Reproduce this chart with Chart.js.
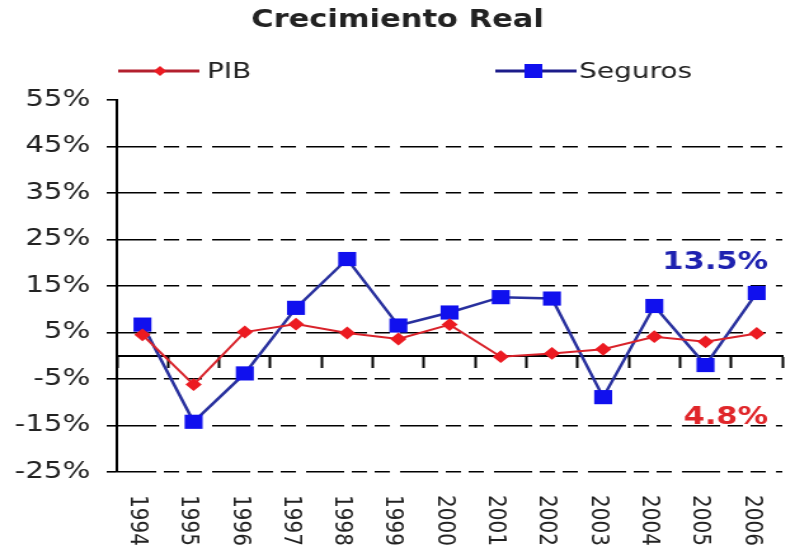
<!DOCTYPE html>
<html lang="es">
<head>
<meta charset="utf-8">
<title>Crecimiento Real</title>
<script src="https://cdn.jsdelivr.net/npm/chart.js@4.4.1/dist/chart.umd.min.js"></script>
<style>
    html, body { margin: 0; padding: 0; background: #ffffff; overflow: hidden; }
</style>
</head>
<body>
<!-- le canvas est dessiné plus étroit puis étiré, comme l'image d'origine -->
<canvas id="chartCrec" width="626" height="548" style="width:795px;height:548px;"></canvas>
<script>
'use strict';

var TITRE   = 'Crecimiento Real';
var YEARS   = ['1994', '1995', '1996', '1997', '1998', '1999', '2000',
               '2001', '2002', '2003', '2004', '2005', '2006'];
var PIB     = [4.5, -6.2, 5.1, 6.8, 4.9, 3.6, 6.7, -0.2, 0.5, 1.4, 4.1, 3.0, 4.8];
var SEGUROS = [6.7, -14.2, -3.8, 10.3, 20.8, 6.5, 9.3, 12.6, 12.3, -8.9, 10.7, -2.0, 13.5];
var Y_TICKS = [-25, -15, -5, 5, 15, 25, 35, 45, 55];

var ROJO      = '#d9232b';
var ROJO_PT   = '#ec1b22';
var AZUL      = '#28309e';
var AZUL_PT   = '#1010ee';
var TEXTO     = '#222222';

Chart.defaults.font.family = '"DejaVu Sans", Verdana, sans-serif';

/* Titre, légende, années verticales et valeurs finales */
var decorPlugin = {
    id: 'decor',
    afterDraw: function (chart) {
        var ctx  = chart.ctx;
        var xs   = chart.scales.x;
        var ys   = chart.scales.y;
        var last = YEARS.length - 1;

        ctx.save();
        ctx.fillStyle    = TEXTO;
        ctx.textAlign    = 'center';
        ctx.textBaseline = 'middle';
        ctx.font         = 'bold 24px "DejaVu Sans", sans-serif';
        ctx.fillText(TITRE, chart.width / 2, 21);

        /* légende */
        ctx.lineWidth = 3;
        ctx.strokeStyle = '#b3202e';
        ctx.beginPath(); ctx.moveTo(93, 71); ctx.lineTo(157, 71); ctx.stroke();
        ctx.fillStyle = ROJO_PT;
        ctx.beginPath();
        ctx.moveTo(126, 66); ctx.lineTo(131, 71); ctx.lineTo(126, 76); ctx.lineTo(121, 71);
        ctx.closePath(); ctx.fill();

        ctx.strokeStyle = '#1c1c8a';
        ctx.beginPath(); ctx.moveTo(390, 71); ctx.lineTo(454, 71); ctx.stroke();
        ctx.fillStyle = AZUL_PT;
        ctx.fillRect(413, 64, 14, 14);

        ctx.fillStyle = TEXTO;
        ctx.textAlign = 'left';
        ctx.font      = '22px "DejaVu Sans", sans-serif';
        ctx.fillText('PIB', 163, 72);
        ctx.fillText('Seguros', 456, 72);

        /* années, lues de haut en bas */
        ctx.font = '20px "DejaVu Sans", sans-serif';
        YEARS.forEach(function (yr, i) {
            ctx.save();
            ctx.translate(xs.getPixelForValue(i) - 4, 495);
            ctx.rotate(Math.PI / 2);
            ctx.textAlign    = 'left';
            ctx.textBaseline = 'middle';
            ctx.fillText(yr, 0, 0);
            ctx.restore();
        });

        /* valeurs 2006 */
        var xl = xs.getPixelForValue(last) + 9;
        ctx.textAlign = 'right';
        ctx.font      = 'bold 24px "DejaVu Sans", sans-serif';
        ctx.fillStyle = '#1e22b0';
        ctx.fillText(SEGUROS[last].toFixed(1) + '%', xl, ys.getPixelForValue(SEGUROS[last]) - 30);
        ctx.fillStyle = '#e0262a';
        ctx.fillText(PIB[last].toFixed(1) + '%', xl, ys.getPixelForValue(PIB[last]) + 84);
        ctx.restore();
    }
};

var fondBlanc = {
    id: 'fondBlanc',
    beforeDraw: function (chart) {
        var ctx = chart.ctx;
        ctx.save();
        ctx.fillStyle = '#ffffff';
        ctx.fillRect(0, 0, chart.width, chart.height);
        ctx.restore();
    }
};

new Chart(document.getElementById('chartCrec'), {
    type: 'line',
    data: {
        labels: YEARS,
        datasets: [{
            label:                'PIB',
            data:                 PIB,
            borderColor:          ROJO,
            borderWidth:          2,
            pointStyle:           'rectRot',
            pointRadius:          5,
            pointBackgroundColor: ROJO_PT,
            pointBorderColor:     ROJO_PT,
            tension:              0
        }, {
            label:                'Seguros',
            data:                 SEGUROS,
            borderColor:          AZUL,
            borderWidth:          2.5,
            pointStyle:           'rect',
            pointRadius:          10,
            pointBackgroundColor: AZUL_PT,
            pointBorderColor:     AZUL_PT,
            pointBorderWidth:     0,
            tension:              0
        }]
    },
    options: {
        responsive:       false,
        animation:        false,
        devicePixelRatio: 1,
        layout: { padding: { top: 100, bottom: 76, left: 0, right: 2 } },
        plugins: {
            legend:  { display: false },
            title:   { display: false },
            tooltip: { enabled: false }
        },
        scales: {
            x: {
                type:     'category',
                offset:   true,
                position: { y: 0 },
                ticks:    { display: false },
                grid: {
                    offset:          true,
                    drawOnChartArea: false,
                    tickLength:      11,
                    tickColor:       '#000000',
                    tickWidth:       2
                },
                border: { color: '#000000', width: 2 }
            },
            y: {
                min: -25,
                max: 55,
                afterBuildTicks: function (scale) {
                    scale.ticks = Y_TICKS.map(function (v) { return { value: v }; });
                },
                afterFit: function (scale) { scale.width = 92; },
                ticks: {
                    color:    TEXTO,
                    padding:  13,
                    font:     { size: 23 },
                    callback: function (v) { return v + '%'; }
                },
                grid: {
                    color: function (c) {
                        return c.tick && c.tick.value === 55 ? 'rgba(0,0,0,0)' : '#000000';
                    },
                    lineWidth:     1.6,
                    tickLength:    8,
                    tickColor:     '#000000',
                    tickWidth:     1.6,
                    tickBorderDash: []
                },
                border: { color: '#000000', width: 2, dash: [30, 6, 12, 6, 12, 8] }
            }
        }
    },
    plugins: [fondBlanc, decorPlugin]
});
</script>
</body>
</html>
